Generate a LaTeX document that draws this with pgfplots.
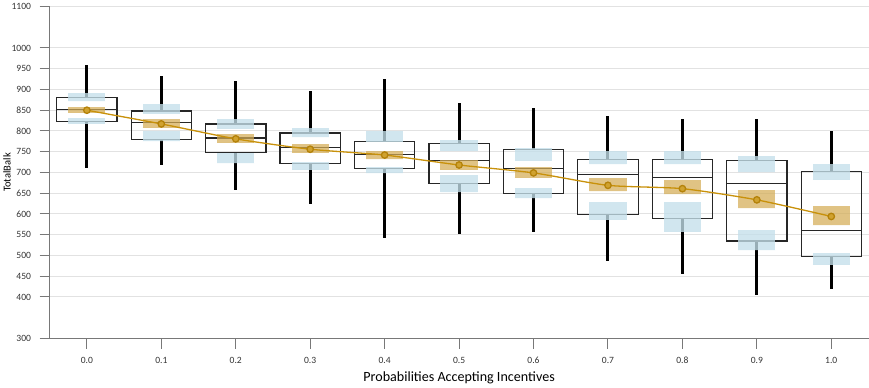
\documentclass[border=0pt]{standalone}
\usepackage{fontspec}
\setmainfont{Carlito}
\usepackage{pgfplots}
\usepackage{pgfplotstable}
\usepgfplotslibrary{statistics}
\pgfplotsset{compat=1.18}
\definecolor{gridgray}{RGB}{226,226,226}
\definecolor{axisgray}{RGB}{120,120,120}
\definecolor{bandblue}{RGB}{196,223,234}
\definecolor{bandgold}{RGB}{212,172,85}
\definecolor{meangold}{RGB}{200,145,10}

% cat wlo q1 med q3 whi mean
\pgfplotstableread{
x wlo q1 med q3 whi mean
0 710 823 852 880 958 850
1 717 779 820 848 933 817
2 657 748 783 817 920 781
3 625 722 760 795 897 756
4 543 709 744 774 925 742
5 551 673 728 770 867 718
6 556 649 709 755 855 699
7 486 598 695 732 835 669
8 456 590 687 732 828 661
9 405 535 673 728 828 634
10 419 498 561 703 799 594
}\boxdata

% bands: lower-quartile band, upper-quartile band, mean band
\pgfplotstableread{
x b1lo b1hi b3lo b3hi mlo mhi
0 817 832 872 892 844 858
1 775 800 842 864 808 828
2 722 748 805 828 772 793
3 706 725 785 808 747 768
4 698 713 774 800 732 752
5 652 695 752 779 706 730
6 638 663 728 758 687 712
7 586 630 720 752 655 687
8 557 630 720 752 647 682
9 512 561 701 740 614 657
10 478 506 683 720 573 618
}\banddata

\pgfplotsset{
  mainbox/.style={draw=black, fill=none, line width=1.2pt,
    boxplot/box extend=0.81, boxplot/whisker extend=0,
    boxplot/every whisker/.style={line width=3pt, draw=black},
    boxplot/every box/.style={line width=1.2pt, draw=black!85},
    boxplot/every median/.style={line width=1.2pt, draw=black!85}},
  blueband/.style={draw=none, fill=bandblue, fill opacity=0.78,
    boxplot/box extend=0.5, boxplot/whisker extend=0,
    boxplot/every box/.style={draw=none},
    boxplot/every whisker/.style={draw=none},
    boxplot/every median/.style={draw=none}},
  goldband/.style={draw=none, fill=bandgold, fill opacity=0.72,
    boxplot/box extend=0.5, boxplot/whisker extend=0,
    boxplot/every box/.style={draw=none},
    boxplot/every whisker/.style={draw=none},
    boxplot/every median/.style={draw=none}},
}

\begin{document}
\begin{tikzpicture}
\begin{axis}[
  scale only axis,
  width=814pt, height=330pt,
  boxplot/draw direction=y,
  xmin=-0.5, xmax=10.5,
  ymin=300, ymax=1100,
  axis x line*=bottom, axis y line*=left,
  axis line style={axisgray, line width=1pt, -},
  tick align=outside,
  major tick length=10pt,
  tick style={axisgray, line width=1pt},
  xtick={0,...,10},
  xticklabels={0.0,0.1,0.2,0.3,0.4,0.5,0.6,0.7,0.8,0.9,1.0},
  ytick={300,400,450,500,550,600,650,700,750,800,850,900,950,1000,1100},
  ymajorgrids,
  grid style={gridgray, line width=1pt},
  /pgf/number format/assume math mode=true,
  /pgf/number format/1000 sep={},
  ticklabel style={font=\fontsize{9.5}{11}\selectfont, text=black!80},
  xticklabel style={yshift=-5pt},
  yticklabel style={xshift=-5pt},
  xlabel={\fontsize{14}{16}\selectfont Probabilities Accepting Incentives},
  ylabel={\fontsize{10.5}{12}\selectfont TotalBalk},
  xlabel style={yshift=-1pt},
  ylabel style={yshift=-6pt},
  clip=false,
]
\pgfplotsforeachungrouped \i in {0,...,10}{%
  \pgfplotstablegetelem{\i}{wlo}\of\boxdata\let\vwlo\pgfplotsretval
  \pgfplotstablegetelem{\i}{q1}\of\boxdata\let\vqa\pgfplotsretval
  \pgfplotstablegetelem{\i}{med}\of\boxdata\let\vmed\pgfplotsretval
  \pgfplotstablegetelem{\i}{q3}\of\boxdata\let\vqc\pgfplotsretval
  \pgfplotstablegetelem{\i}{whi}\of\boxdata\let\vwhi\pgfplotsretval
  \edef\tmp{\noexpand\addplot[mainbox, boxplot prepared={draw position=\i,
      lower whisker=\vwlo, lower quartile=\vqa, median=\vmed,
      upper quartile=\vqc, upper whisker=\vwhi}] coordinates {};}%
  \tmp
}
\pgfplotsforeachungrouped \i in {0,...,10}{%
  \pgfplotstablegetelem{\i}{b1lo}\of\banddata\let\va\pgfplotsretval
  \pgfplotstablegetelem{\i}{b1hi}\of\banddata\let\vb\pgfplotsretval
  \pgfplotstablegetelem{\i}{b3lo}\of\banddata\let\vc\pgfplotsretval
  \pgfplotstablegetelem{\i}{b3hi}\of\banddata\let\vd\pgfplotsretval
  \pgfplotstablegetelem{\i}{mlo}\of\banddata\let\ve\pgfplotsretval
  \pgfplotstablegetelem{\i}{mhi}\of\banddata\let\vf\pgfplotsretval
  \edef\tmp{\noexpand\addplot[blueband, boxplot prepared={draw position=\i,
      lower whisker=\va, lower quartile=\va, median=\va,
      upper quartile=\vb, upper whisker=\vb}] coordinates {};
    \noexpand\addplot[blueband, boxplot prepared={draw position=\i,
      lower whisker=\vc, lower quartile=\vc, median=\vc,
      upper quartile=\vd, upper whisker=\vd}] coordinates {};
    \noexpand\addplot[goldband, boxplot prepared={draw position=\i,
      lower whisker=\ve, lower quartile=\ve, median=\ve,
      upper quartile=\vf, upper whisker=\vf}] coordinates {};}%
  \tmp
}
\addplot[meangold, line width=1.3pt, smooth, tension=0.4,
  mark=*, mark size=3.2pt, mark options={fill=meangold!85, draw=meangold!90!black}]
  table[x=x, y=mean]{\boxdata};
\end{axis}
\end{tikzpicture}
\end{document}
